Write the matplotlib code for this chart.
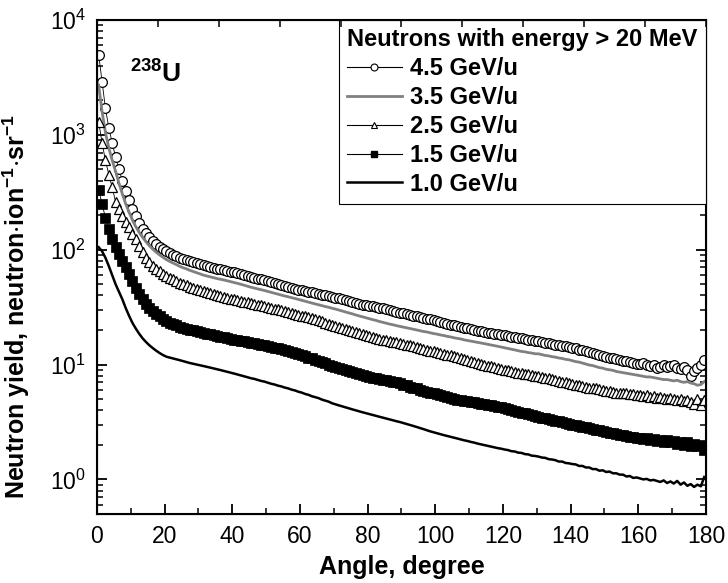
import numpy as np
import matplotlib
matplotlib.use("Agg")
import matplotlib.pyplot as plt
from matplotlib.lines import Line2D

plt.rcParams['font.family'] = ['Liberation Sans', 'DejaVu Sans']
plt.rcParams['mathtext.fontset'] = 'custom'
plt.rcParams['mathtext.rm'] = 'Liberation Sans'
plt.rcParams['mathtext.bf'] = 'Liberation Sans:bold'
plt.rcParams['mathtext.default'] = 'regular'

# angular bins, 1 degree wide
angle = np.arange(0.5, 180, 1.0)

y_45 = [
    5000, 2900, 1700, 1150, 850, 640, 500, 400, 325, 270,
    228, 195, 170, 152, 139, 128, 119, 112, 106, 101,
    96.5, 93, 90, 87.5, 85, 83, 81, 79, 77.5, 76,
    74.5, 73, 71.5, 70.5, 69.5, 68.5, 67.5, 66.5, 65.5, 64.5,
    63.5, 62.5, 61.5, 60.5, 59, 58, 57, 56, 55, 54,
    53, 52, 51, 50, 49, 48, 47, 46.3, 45.6, 45,
    44.3, 43.7, 43.1, 42.5, 41.9, 41.3, 40.7, 40.1, 39.5, 38.9,
    38.3, 37.6, 36.9, 36.2, 35.5, 34.8, 34.1, 33.6, 33.2, 32.9,
    32.5, 32.1, 31.7, 31.2, 30.8, 30.3, 29.8, 29.3, 28.8, 28.3,
    27.9, 27.5, 27.1, 26.7, 26.3, 25.9, 25.5, 25.1, 24.7, 24.3,
    23.9, 23.5, 23.1, 22.7, 22.3, 21.9, 21.5, 21.2, 20.9, 20.6,
    20.3, 20.0, 19.7, 19.5, 19.2, 19.0, 18.8, 18.5, 18.3, 18.1,
    17.9, 17.7, 17.5, 17.3, 17.1, 16.9, 16.7, 16.5, 16.3, 16.1,
    15.9, 15.7, 15.5, 15.3, 15.1, 14.9, 14.7, 14.6, 14.4, 14.2,
    14.0, 13.8, 13.5, 13.3, 13.0, 12.8, 12.6, 12.4, 12.1, 11.9,
    11.7, 11.5, 11.3, 11.1, 10.9, 10.8, 10.7, 10.5, 10.4, 10.2,
    10.1, 10.3, 9.9, 9.7, 9.9, 9.3, 9.6, 10.0, 9.5, 9.8,
    9.9, 9.4, 9.2, 9.6, 9.0, 8.0, 8.7, 9.3, 9.9, 11.0,
]

y_35 = [
    2700, 1600, 1050, 770, 600, 480, 380, 305, 250, 212,
    180, 158, 141, 128, 117, 108, 101, 95, 90, 86,
    82, 79, 76.5, 74, 71.5, 69.5, 68, 66, 64.5, 63,
    61.5, 60, 59, 58, 57, 56, 55.3, 54.5, 53.6, 52.7,
    51.8, 50.9, 50, 49, 48, 47.1, 46.3, 45.6, 44.8, 44.1,
    43.3, 42.6, 41.8, 41.0, 40.3, 39.5, 38.9, 38.2, 37.6, 36.9,
    36.2, 35.6, 34.9, 34.3, 33.7, 33.1, 32.6, 32.0, 31.5, 30.9,
    30.4, 29.8, 29.2, 28.7, 28.1, 27.6, 27.0, 26.5, 26.0, 25.5,
    25.1, 24.6, 24.2, 23.7, 23.3, 22.9, 22.5, 22.2, 21.8, 21.5,
    21.2, 20.9, 20.6, 20.3, 20.0, 19.7, 19.4, 19.2, 18.9, 18.6,
    18.4, 18.1, 17.9, 17.6, 17.4, 17.1, 16.9, 16.7, 16.4, 16.2,
    16.0, 15.8, 15.6, 15.4, 15.2, 15.0, 14.8, 14.6, 14.4, 14.2,
    14.0, 13.8, 13.6, 13.4, 13.2, 13.0, 12.9, 12.7, 12.6, 12.4,
    12.4, 12.2, 12.0, 11.9, 11.7, 11.6, 11.4, 11.3, 11.1, 11.0,
    10.8, 10.6, 10.5, 10.3, 10.1, 9.9, 9.8, 9.6, 9.4, 9.3,
    9.1, 9.0, 8.9, 8.7, 8.6, 8.5, 8.4, 8.3, 8.2, 8.1,
    8.0, 7.9, 7.8, 7.8, 7.7, 7.6, 7.5, 7.4, 7.4, 7.3,
    7.2, 7.3, 7.1, 7.0, 7.1, 6.9, 6.8, 6.6, 6.7, 7.1,
]

y_25 = [
    1300, 850, 600, 450, 350, 260, 225, 198, 175, 156,
    138, 123, 108, 95, 85, 78, 72, 68, 65, 62,
    59, 57, 55, 53, 51.5, 50, 48.8, 47.6, 46.5, 45.5,
    44.5, 43.5, 42.6, 41.8, 41.0, 40.2, 39.5, 38.8, 38.1, 37.5,
    36.9, 36.3, 35.7, 35.2, 34.7, 34.2, 33.7, 33.2, 32.7, 32.2,
    31.7, 31.2, 30.7, 30.2, 29.7, 29.2, 28.7, 28.2, 27.7, 27.2,
    26.7, 26.2, 25.7, 25.2, 24.7, 24.2, 23.7, 23.2, 22.7, 22.2,
    21.7, 21.2, 20.7, 20.3, 19.9, 19.5, 19.1, 18.7, 18.3, 18.0,
    17.7, 17.4, 17.1, 16.8, 16.5, 16.3, 16.0, 15.8, 15.6, 15.4,
    15.2, 14.9, 14.7, 14.4, 14.2, 13.9, 13.7, 13.4, 13.2, 13.0,
    12.8, 12.6, 12.4, 12.2, 12.0, 11.8, 11.6, 11.4, 11.2, 11.0,
    10.8, 10.6, 10.4, 10.2, 10.0, 9.8, 9.7, 9.5, 9.3, 9.2,
    9.0, 8.9, 8.7, 8.6, 8.5, 8.4, 8.3, 8.2, 8.1, 8.0,
    7.9, 7.8, 7.7, 7.6, 7.5, 7.3, 7.2, 7.1, 7.0, 6.9,
    6.8, 6.7, 6.6, 6.5, 6.4, 6.3, 6.2, 6.2, 6.1, 6.0,
    5.9, 5.9, 5.8, 5.7, 5.7, 5.6, 5.6, 5.5, 5.5, 5.4,
    5.4, 5.3, 5.4, 5.2, 5.3, 5.1, 5.2, 5.1, 5.0, 5.1,
    5.0, 4.9, 5.0, 4.8, 4.9, 4.7, 4.5, 5.0, 4.4, 4.9,
]

y_15 = [
    330, 250, 190, 150, 125, 106, 92, 80, 70, 61,
    53, 46, 41, 37, 33.5, 31, 29, 27.5, 26.2, 25,
    24, 23.2, 22.5, 21.9, 21.4, 20.9, 20.5, 20.1, 19.8, 19.5,
    19.2, 18.9, 18.6, 18.3, 18.0, 17.7, 17.5, 17.2, 16.9, 16.7,
    16.5, 16.3, 16.1, 15.9, 15.7, 15.5, 15.3, 15.1, 14.9, 14.7,
    14.5, 14.3, 14.0, 13.8, 13.6, 13.3, 13.1, 12.8, 12.6, 12.3,
    12.0, 11.8, 11.5, 11.3, 11.0, 10.8, 10.5, 10.3, 10.0, 9.8,
    9.6, 9.4, 9.2, 9.0, 8.8, 8.6, 8.4, 8.25, 8.1, 7.95,
    7.8, 7.7, 7.6, 7.5, 7.4, 7.3, 7.2, 7.1, 7.0, 6.9,
    6.7, 6.6, 6.4, 6.3, 6.2, 6.0, 5.9, 5.8, 5.7, 5.6,
    5.5, 5.4, 5.3, 5.2, 5.1, 5.0, 4.95, 4.9, 4.85, 4.8,
    4.75, 4.7, 4.6, 4.55, 4.5, 4.45, 4.4, 4.35, 4.3, 4.25,
    4.2, 4.1, 4.0, 3.95, 3.9, 3.8, 3.75, 3.7, 3.6, 3.55,
    3.5, 3.45, 3.4, 3.35, 3.3, 3.25, 3.2, 3.15, 3.1, 3.05,
    3.0, 2.95, 2.9, 2.85, 2.85, 2.8, 2.75, 2.7, 2.7, 2.65,
    2.6, 2.55, 2.55, 2.5, 2.45, 2.45, 2.4, 2.35, 2.35, 2.3,
    2.3, 2.25, 2.3, 2.2, 2.25, 2.15, 2.2, 2.1, 2.2, 2.1,
    2.15, 2.05, 2.1, 2.0, 2.1, 1.95, 2.05, 1.95, 2.0, 1.8,
]

y_10 = [
    105, 97, 85, 72, 60, 50, 43, 37, 31, 26.5,
    23, 20.5, 18.5, 16.9, 15.7, 14.7, 13.9, 13.2, 12.6, 12.1,
    11.7, 11.5, 11.3, 11.1, 10.9, 10.7, 10.5, 10.3, 10.15, 10.0,
    9.85, 9.7, 9.55, 9.4, 9.25, 9.1, 8.95, 8.8, 8.65, 8.5,
    8.35, 8.2, 8.05, 7.9, 7.75, 7.6, 7.5, 7.35, 7.2, 7.1,
    6.95, 6.8, 6.7, 6.55, 6.45, 6.3, 6.2, 6.05, 5.95, 5.8,
    5.7, 5.55, 5.45, 5.3, 5.2, 5.1, 4.95, 4.85, 4.75, 4.6,
    4.5, 4.41, 4.32, 4.23, 4.15, 4.07, 3.99, 3.91, 3.84, 3.77,
    3.70, 3.63, 3.57, 3.51, 3.45, 3.39, 3.33, 3.27, 3.21, 3.16,
    3.10, 3.04, 2.98, 2.92, 2.86, 2.80, 2.74, 2.68, 2.62, 2.57,
    2.52, 2.47, 2.43, 2.39, 2.35, 2.31, 2.27, 2.23, 2.19, 2.16,
    2.12, 2.09, 2.05, 2.02, 1.99, 1.96, 1.93, 1.9, 1.87, 1.85,
    1.82, 1.80, 1.76, 1.75, 1.71, 1.70, 1.66, 1.65, 1.61, 1.60,
    1.58, 1.55, 1.54, 1.50, 1.49, 1.47, 1.43, 1.43, 1.39, 1.38,
    1.36, 1.35, 1.31, 1.31, 1.27, 1.27, 1.23, 1.23, 1.19, 1.20,
    1.16, 1.17, 1.13, 1.13, 1.10, 1.10, 1.06, 1.07, 1.03, 1.04,
    1.02, 1.0, 1.01, 0.98, 0.99, 0.97, 0.95, 0.98, 0.93, 0.96,
    0.92, 0.97, 0.90, 0.94, 0.88, 0.91, 0.86, 0.90, 0.87, 1.05,
]

labels = ['4.5 GeV/u', '3.5 GeV/u', '2.5 GeV/u', '1.5 GeV/u', '1.0 GeV/u']

fig = plt.figure(figsize=(7.28, 5.83), dpi=100)
ax = fig.add_axes([0.1332, 0.1184, 0.8365, 0.8474])

ax.plot(angle, y_45, color='black', lw=0.6, marker='o', ms=7,
        mfc='white', mec='black', mew=0.9)
ax.plot(angle, y_35, color='#808080', lw=2.0)
ax.plot(angle, y_25, color='black', lw=0.6, marker='^', ms=7,
        mfc='white', mec='black', mew=0.9)
ax.plot(angle, y_15, color='black', lw=0.6, marker='s', ms=6.5,
        mfc='black', mec='black', mew=0.5)
ax.plot(angle, y_10, color='black', lw=1.8)

ax.set_yscale('log')
ax.set_xlim(0, 180)
ax.set_ylim(0.5, 1e4)
ax.set_xticks(range(0, 181, 20))
ax.set_xticks(range(10, 180, 20), minor=True)

for s in ax.spines.values():
    s.set_linewidth(1.5)
ax.tick_params(axis='both', which='major', direction='in', length=7, width=1.3,
               labelsize=16.5, pad=8)
ax.tick_params(axis='both', which='minor', direction='in', length=4, width=1.1)
ax.tick_params(axis='y', which='both', right=True)

# top axis ticks
top = ax.twiny()
top.set_xlim(0, 10)
top.set_xticks(range(11))
top.set_xticklabels([])
top.tick_params(axis='x', direction='in', length=5, width=1.1)

ax.set_xlabel('Angle, degree', fontsize=18, fontweight='bold', labelpad=5)
ax.set_ylabel(r'Neutron yield, neutron$\cdot$ion$^{\mathbf{-1}}$$\cdot$sr$^{\mathbf{-1}}$',
              fontsize=18, fontweight='bold')
ax.yaxis.set_label_coords(-0.106, 0.42)

ax.text(0.054, 0.874, r'$^{\mathbf{238}}$U', transform=ax.transAxes,
        fontsize=19, fontweight='bold', ha='left', va='baseline')

handles = [
    Line2D([], [], color='black', lw=0.8, marker='o', ms=5, mfc='white', mec='black', mew=0.8),
    Line2D([], [], color='#808080', lw=2.0),
    Line2D([], [], color='black', lw=0.8, marker='^', ms=5, mfc='white', mec='black', mew=0.8),
    Line2D([], [], color='black', lw=0.8, marker='s', ms=5, mfc='black', mec='black'),
    Line2D([], [], color='black', lw=1.8),
]
leg = ax.legend(handles, labels, loc='upper right', borderaxespad=0,
                title='Neutrons with energy > 20 MeV', fancybox=False,
                framealpha=1, edgecolor='black', handlelength=2.3,
                handletextpad=0.35, labelspacing=0.25, borderpad=0.35,
                prop={'size': 17, 'weight': 'bold'},
                title_fontproperties={'size': 17, 'weight': 'bold'})
leg._legend_box.align = 'left'
leg.get_frame().set_linewidth(0.8)
leg.set_zorder(5)

fig.savefig('out.png', dpi=100)
